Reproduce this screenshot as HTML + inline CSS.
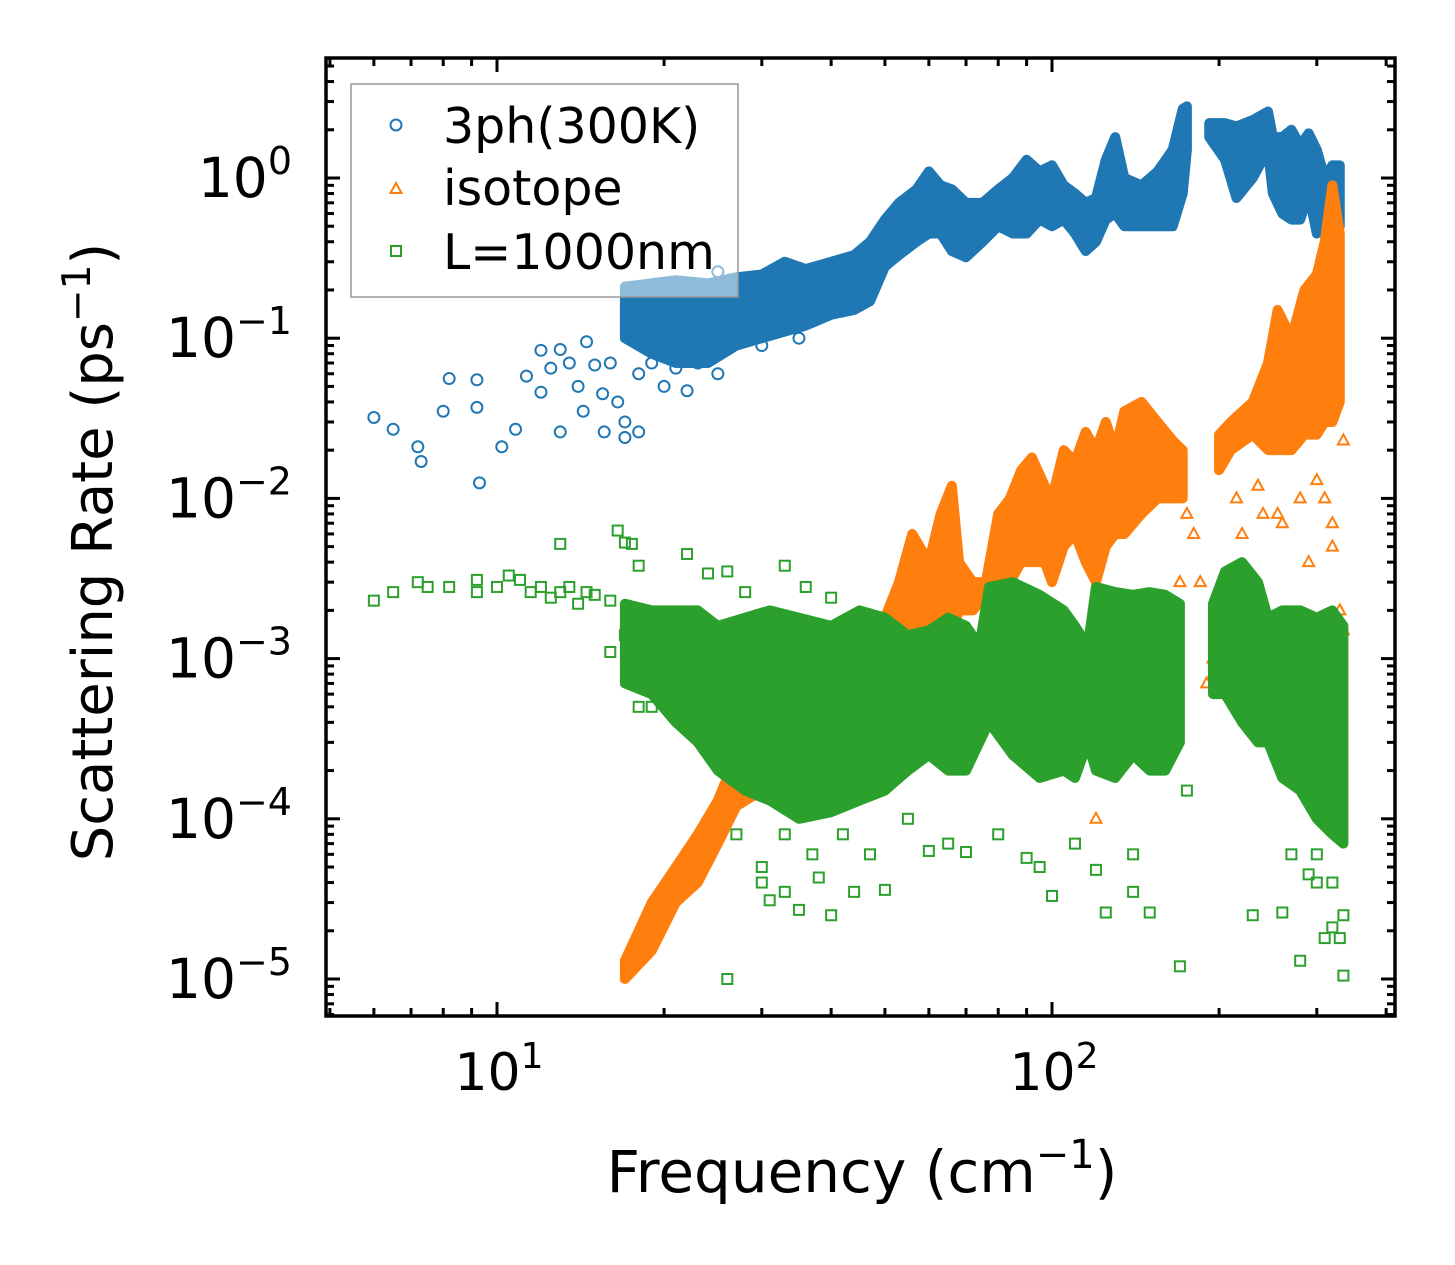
<!DOCTYPE html>
<html><head><meta charset="utf-8"><style>
html,body{margin:0;padding:0;background:#fff;}
svg{display:block;font-family:"DejaVu Sans","Liberation Sans",sans-serif;}
</style></head><body>
<div style="position:relative;width:1455px;height:1265px;">
<svg id="chart" width="1455" height="1265" viewBox="0 0 1455 1265" style="position:absolute;left:0;top:0;">
<g id="marks"></g>
<g id="axes"></g>
<text x="862" y="1192" font-size="58" text-anchor="middle">Frequency (cm<tspan dy="-24" font-size="40">−1</tspan><tspan dy="24">)</tspan></text>
<text transform="translate(112,552) rotate(-90)" font-size="56" text-anchor="middle">Scattering Rate (ps<tspan dy="-22" font-size="39">−1</tspan><tspan dy="22">)</tspan></text>
<g>
<rect x="351" y="84" width="387" height="213" fill="#fff" fill-opacity="0.5" stroke="#999" stroke-width="1.5"/>
<circle cx="396" cy="125" r="5.5" fill="none" stroke="#1f77b4" stroke-width="2"/>
<text x="443" y="143" font-size="49">3ph(300K)</text>
<polygon points="396,183 390.5,193 401.5,193" fill="none" stroke="#ff7f0e" stroke-width="2"/>
<text x="443" y="205" font-size="49">isotope</text>
<rect x="391" y="246" width="10" height="10" fill="none" stroke="#2ca02c" stroke-width="2"/>
<text x="443" y="269" font-size="49">L=1000nm</text>
</g>
</svg>
</div>
<script>
// ---- data ----
const blueBandFreq = [17,19,21,24,27,30,33,36,40,44,47,50,53,57,60,63,66,70,75,80,85,90,95,100,105,110,115,120,125,130,135,145,155,165,172,175,null,192,205,215,230,245,250,260,270,280,290,300,310,320,330];
const blueBandLo   = [0.1,0.08,0.07,0.07,0.09,0.1,0.11,0.12,0.14,0.15,0.17,0.28,0.33,0.4,0.45,0.45,0.35,0.32,0.4,0.5,0.45,0.45,0.55,0.5,0.55,0.45,0.35,0.4,0.55,0.6,0.5,0.5,0.5,0.5,0.8,1.5,null,1.8,1.3,0.75,1.0,1.5,0.8,0.6,0.55,0.55,0.8,0.45,0.55,0.5,0.5];
const blueBandHi   = [0.21,0.22,0.23,0.22,0.24,0.25,0.3,0.27,0.3,0.33,0.4,0.55,0.7,0.85,1.1,0.9,0.85,0.7,0.7,0.85,1.0,1.3,1.1,1.2,0.9,0.8,0.7,0.75,1.3,1.8,1.0,0.9,1.1,1.5,2.7,2.8,null,2.2,2.2,2.1,2.3,2.6,1.8,1.8,2.0,1.6,1.9,1.5,1.0,1.2,1.2];
const orangeBandFreq = [17,19,21,23,25,27,30,35,40,45,50,53,56,60,63,66,68,72,76,80,84,88,92,97,100,105,110,115,120,125,130,135,145,155,165,172,null,200,210,230,245,255,270,285,300,310,320,330];
const orangeBandLo   = [1e-5,1.5e-5,3e-5,4e-5,7e-5,1.2e-4,1.5e-4,2e-4,2e-4,3e-4,5e-4,8e-4,1.3e-3,1.5e-3,1.5e-3,1.5e-3,2e-3,2e-3,2.5e-3,3e-3,3e-3,4e-3,4e-3,4e-3,3e-3,5e-3,6e-3,4e-3,3e-3,5e-3,6e-3,6e-3,8e-3,1e-2,1e-2,1e-2,null,1.5e-2,2e-2,2.5e-2,2e-2,2e-2,2e-2,2.5e-2,2.5e-2,3e-2,3e-2,4e-2];
const orangeBandHi   = [1.3e-5,3e-5,5e-5,8e-5,1.3e-4,2.5e-4,4e-4,6e-4,8e-4,1.3e-3,1.8e-3,3e-3,6e-3,4e-3,8e-3,1.2e-2,4e-3,3e-3,3e-3,8e-3,1e-2,1.5e-2,1.8e-2,1.2e-2,1e-2,2e-2,1.7e-2,2.6e-2,2e-2,3e-2,2e-2,3.5e-2,4e-2,3e-2,2.3e-2,2e-2,null,2.5e-2,3e-2,4e-2,7e-2,0.15,0.1,0.2,0.25,0.4,0.9,0.45];
const greenBandFreq = [17,19,21,23,25,28,31,35,40,45,50,55,60,65,70,74,77,85,95,105,110,116,120,130,140,150,160,170,null,195,205,220,235,245,260,280,300,320,335];
const greenBandLo   = [7e-4,6e-4,4e-4,3e-4,2e-4,1.5e-4,1.3e-4,1e-4,1.1e-4,1.3e-4,1.5e-4,2e-4,2.5e-4,2e-4,2e-4,3e-4,4e-4,2.5e-4,1.8e-4,2e-4,1.8e-4,3e-4,2e-4,1.8e-4,2.5e-4,2e-4,2e-4,3e-4,null,6e-4,6e-4,4e-4,3e-4,3e-4,1.8e-4,1.5e-4,1e-4,8e-5,7e-5];
const greenBandHi   = [2.2e-3,2e-3,2e-3,2e-3,1.6e-3,1.8e-3,2e-3,1.8e-3,1.6e-3,2e-3,1.8e-3,1.4e-3,1.5e-3,1.8e-3,1.6e-3,1.2e-3,2.8e-3,3e-3,2.5e-3,2e-3,1.6e-3,1.2e-3,2.8e-3,2.6e-3,2.5e-3,2.6e-3,2.5e-3,2.2e-3,null,2.2e-3,3.5e-3,4e-3,3e-3,1.8e-3,2e-3,2e-3,1.8e-3,2e-3,1.6e-3];
const blueFreq = [6,6.5,7.2,7.3,8,8.2,9.2,9.2,9.3,10.2,10.8,11.3,12,12,12.5,13,13,13.5,14,14.3,14.5,15,15.5,15.6,16,16.5,17,17,18,18,19,20,21,22,23,25,30,35,25,22];
const blueVal  = [0.032,0.027,0.021,0.017,0.035,0.056,0.055,0.037,0.0125,0.021,0.027,0.058,0.084,0.046,0.065,0.085,0.026,0.07,0.05,0.035,0.095,0.068,0.045,0.026,0.07,0.04,0.024,0.03,0.026,0.06,0.07,0.05,0.065,0.047,0.07,0.06,0.09,0.1,0.26,0.2];
const orangeFreq = [120,165,170,175,180,185,190,195,200,210,215,220,235,240,255,260,280,290,300,310,320,320,330,335,335];
const orangeVal  = [1e-4,2e-3,3e-3,8e-3,6e-3,3e-3,7e-4,1e-3,8e-4,6e-4,1e-2,6e-3,1.2e-2,8e-3,8e-3,7e-3,1e-2,4e-3,1.3e-2,1e-2,5e-3,7e-3,2e-3,2.3e-2,1.5e-3];
const greenFreq = [6,6.5,7.2,7.5,8.2,9.2,9.2,10,10.5,11,11.5,12,12.5,13,13.5,14,14.5,15,16,16.5,17,17.5,18,13,22,24,26,28,33,36,40,26,30,31,33,35,38,40,44,50,60,70,90,100,120,125,140,150,170,260,280,300,310,320,330,335,335,320,230,300,18,19,20,22,24,27,30,33,37,42,47,55,65,80,95,110,140,175,270,290,16,17];
const greenVal  = [2.3e-3,2.6e-3,3e-3,2.8e-3,2.8e-3,3.1e-3,2.6e-3,2.8e-3,3.3e-3,3.1e-3,2.6e-3,2.8e-3,2.4e-3,2.6e-3,2.8e-3,2.2e-3,2.6e-3,2.5e-3,2.3e-3,6.3e-3,5.3e-3,5.2e-3,3.8e-3,5.2e-3,4.5e-3,3.4e-3,3.5e-3,2.6e-3,3.8e-3,2.8e-3,2.4e-3,1e-5,4e-5,3.1e-5,3.5e-5,2.7e-5,4.3e-5,2.5e-5,3.5e-5,3.6e-5,6.3e-5,6.2e-5,5.7e-5,3.3e-5,4.8e-5,2.6e-5,3.5e-5,2.6e-5,1.2e-5,2.6e-5,1.3e-5,4e-5,1.8e-5,2.1e-5,1.8e-5,1.05e-5,2.5e-5,4e-5,2.5e-5,6e-5,5e-4,5e-4,7e-4,4e-4,6e-4,8e-5,5e-5,8e-5,6e-5,8e-5,6e-5,1e-4,7e-5,8e-5,5e-5,7e-5,6e-5,1.5e-4,6e-5,4.5e-5,1.1e-3,1.4e-3];
const xTickVals = [10,100];
const xTickExp = ["1","2"];
const yTickVals = [1,0.1,0.01,0.001,1e-4,1e-5];
const yTickExp = ["0","\u22121","\u22122","\u22123","\u22124","\u22125"];

// ---- scales ----
const X0=326, X1=1395, Y0=58, Y1=1016;
const xDec=555, x10=497;
const yDec=160.2, y1=178;
function sx(f){return x10+(Math.log10(f)-1)*xDec;}
function sy(v){return y1-Math.log10(v)*yDec;}
const NS="http://www.w3.org/2000/svg";
const marks=document.getElementById('marks');
const axes=document.getElementById('axes');
function mk(tag,attrs,parent){const e=document.createElementNS(NS,tag);for(const k in attrs)e.setAttribute(k,attrs[k]);parent.appendChild(e);return e;}

const clip=mk('clipPath',{id:'pc'},marks);
mk('rect',{x:X0,y:Y0,width:X1-X0,height:Y1-Y0},clip);
const plot=mk('g',{'clip-path':'url(#pc)'},marks);



function bands(fr,lo,hi,color,name){
  let seg=[];const segs=[];
  for(let i=0;i<=fr.length;i++){
    if(i===fr.length||fr[i]===null){if(seg.length)segs.push(seg);seg=[];}
    else seg.push(i);
  }
  segs.forEach((s,j)=>{
    const pts=s.map(i=>sx(fr[i])+','+sy(hi[i])).concat(s.slice().reverse().map(i=>sx(fr[i])+','+sy(lo[i])));
    const p=mk('polygon',{points:pts.join(' '),fill:color,stroke:color,'stroke-width':10,'stroke-linejoin':'round'},plot);
    
    
  });
}
function circ(x,y,c,parent){return mk('circle',{cx:x,cy:y,r:5.5,fill:'none',stroke:c,'stroke-width':2},parent);}
function tri(x,y,c,parent){return mk('polygon',{points:`${x},${y-6} ${x-5.5},${y+4} ${x+5.5},${y+4}`,fill:'none',stroke:c,'stroke-width':2},parent);}
function sq(x,y,c,parent){return mk('rect',{x:x-5,y:y-5,width:10,height:10,fill:'none',stroke:c,'stroke-width':2},parent);}

const BLUE='#1f77b4',ORANGE='#ff7f0e',GREEN='#2ca02c';
bands(blueBandFreq,blueBandLo,blueBandHi,BLUE,'3ph');
blueFreq.forEach((f,i)=>{const e=circ(sx(f),sy(blueVal[i]),BLUE,plot);

});
bands(orangeBandFreq,orangeBandLo,orangeBandHi,ORANGE,'isotope');
orangeFreq.forEach((f,i)=>{const e=tri(sx(f),sy(orangeVal[i]),ORANGE,plot);

});
bands(greenBandFreq,greenBandLo,greenBandHi,GREEN,'boundary');
greenFreq.forEach((f,i)=>{const e=sq(sx(f),sy(greenVal[i]),GREEN,plot);

});

// ---- ticks ----
const tk=mk('g',{stroke:'#000','stroke-width':3},axes);


for(let d=0;d<=2;d++){for(let m=1;m<10;m++){const f=m*Math.pow(10,d);const x=sx(f);if(x<X0||x>X1)continue;const L=m===1?14:8;
mk('line',{x1:x,y1:Y1,x2:x,y2:Y1-L},tk);mk('line',{x1:x,y1:Y0,x2:x,y2:Y0+L},tk);}}
for(let d=-6;d<=0;d++){for(let m=1;m<10;m++){const v=m*Math.pow(10,d);const y=sy(v);if(y<Y0||y>Y1)continue;const L=m===1?14:8;
mk('line',{x1:X0,y1:y,x2:X0+L,y2:y},tk);mk('line',{x1:X1,y1:y,x2:X1-L,y2:y},tk);}}
const fr=mk('rect',{x:X0,y:Y0,width:X1-X0,height:Y1-Y0,fill:'none',stroke:'#000','stroke-width':3.5},axes);



xTickVals.forEach((v,i)=>{const t=mk('text',{x:sx(v)+2,y:1090,'font-size':52,'text-anchor':'middle'},axes);


t.innerHTML='10<tspan dy="-22" font-size="36">'+xTickExp[i]+'</tspan>';});
yTickVals.forEach((v,i)=>{const t=mk('text',{x:292,y:sy(v)+19,'font-size':55,'text-anchor':'end'},axes);


t.innerHTML='10<tspan dy="-23" font-size="38">'+yTickExp[i]+'</tspan>';});
</script>
</body></html>
